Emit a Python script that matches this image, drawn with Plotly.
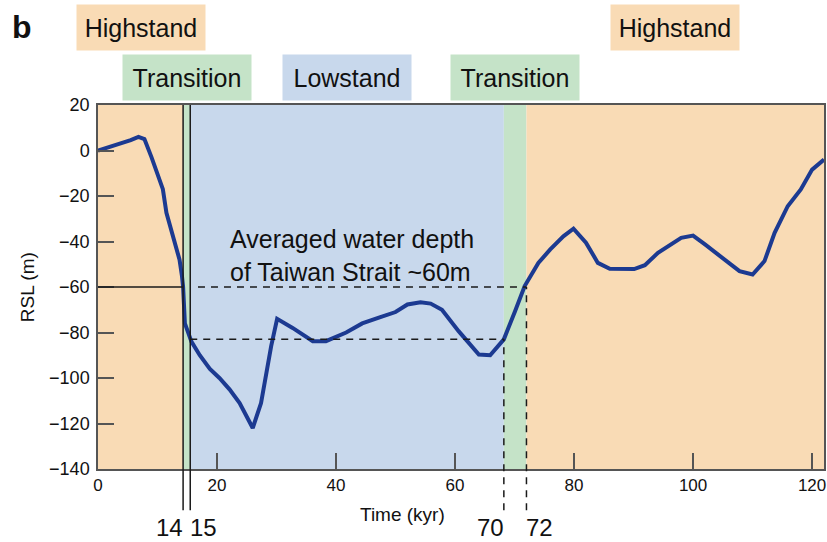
import plotly.graph_objects as go

# ---- data ----
time_kyr = [0, 3, 5.5, 6.8, 7.8, 9, 10.1, 10.9, 11.5, 12.1, 12.8, 13.7, 14.1, 14.3, 14.6,
            15.7, 17.1, 18.8, 20.4, 22.1, 23.8, 26, 27.4, 29.1, 30.1, 32.7, 36.1, 38.3,
            41.7, 44.4, 47.2, 50, 52, 54.2, 55.9, 57.8, 60.6, 61.8, 64, 65.9, 68.2, 70.1,
            71.7, 74, 76, 78.2, 79.9, 82, 84, 86, 90.1, 91.9, 94.1, 98, 100, 102, 104.2,
            107.8, 110, 112, 113.7, 115.9, 118.1, 120, 122]
rsl_m = [0, 2.4, 4.6, 6, 5, -3, -11.3, -17, -27.4, -33, -38, -48, -55, -60, -76,
         -84, -90, -96, -100, -105, -111, -122, -111, -86, -74, -78, -83.8, -83.8,
         -80, -76, -73.5, -71, -67.7, -66.7, -67.3, -70, -79.4, -83, -89.7, -90, -83, -70.6,
         -59.6, -49.4, -43.5, -37.7, -34.4, -40.5, -49.4, -52, -52.1, -50.4, -45, -38.4, -37.4, -41.3, -45.7,
         -53, -54.5, -48.6, -36.2, -24.5, -17.1, -8.4, -4]

# periods (start, end, label, color, label row)
period_start = [0, 14.3, 15.5, 68.2, 72]
period_end = [14.3, 15.5, 68.2, 72, 122]
period_label = ["Highstand", "Transition", "Lowstand", "Transition", "Highstand"]
period_color = ["#F9DBB5", "#C5E3C8", "#C8D8EC", "#C5E3C8", "#F9DBB5"]
period_row = [1, 2, 2, 2, 1]

x_ticks = [0, 20, 40, 60, 80, 100, 120]
y_ticks = [-140, -120, -100, -80, -60, -40, -20, 0, 20]
x_range = [0, 122]
y_range = [-140, 20]

strait_depth = -60      # averaged water depth of Taiwan Strait
lgm_level = -83         # lower reference level
boundary_lines = [14.3, 15.5, 68.2, 72]
boundary_labels = ["14", "15", "70", "72"]

FONT = "Liberation Sans, Arial, Helvetica, sans-serif"
LINE_BLUE = "#1C3A91"

def to_paper(v):
    return (v - y_range[0]) / (y_range[1] - y_range[0])

fig = go.Figure()
fig.add_trace(go.Scatter(x=time_kyr, y=rsl_m, mode="lines",
                         line=dict(color=LINE_BLUE, width=4), showlegend=False,
                         hoverinfo="skip"))

shapes = []
for s, e, c in zip(period_start, period_end, period_color):
    shapes.append(dict(type="rect", xref="x", yref="y", x0=s, x1=e,
                       y0=y_range[0], y1=y_range[1], fillcolor=c,
                       line=dict(width=0), layer="below"))

bottom_paper = -0.113
# solid vertical lines at 14.3 and 15.5
for xv in boundary_lines[:2]:
    shapes.append(dict(type="line", xref="x", yref="paper", x0=xv, x1=xv,
                       y0=bottom_paper, y1=1, line=dict(color="#1a1a1a", width=1.5)))
# dashed vertical lines
shapes.append(dict(type="line", xref="x", yref="paper", x0=boundary_lines[2], x1=boundary_lines[2],
                   y0=bottom_paper, y1=to_paper(lgm_level),
                   line=dict(color="#1a1a1a", width=1.5, dash="7px,6px")))
shapes.append(dict(type="line", xref="x", yref="paper", x0=boundary_lines[3], x1=boundary_lines[3],
                   y0=bottom_paper, y1=to_paper(strait_depth),
                   line=dict(color="#1a1a1a", width=1.5, dash="7px,6px")))
# horizontal lines
shapes.append(dict(type="line", xref="x", yref="y", x0=x_range[0], x1=boundary_lines[0],
                   y0=strait_depth, y1=strait_depth, line=dict(color="#1a1a1a", width=1.5)))
shapes.append(dict(type="line", xref="x", yref="y", x0=boundary_lines[1] + 1.3, x1=boundary_lines[3],
                   y0=strait_depth, y1=strait_depth,
                   line=dict(color="#1a1a1a", width=1.5, dash="7px,6px")))
shapes.append(dict(type="line", xref="x", yref="y", x0=boundary_lines[1], x1=boundary_lines[2],
                   y0=lgm_level, y1=lgm_level,
                   line=dict(color="#1a1a1a", width=1.5, dash="7px,6px")))

annotations = []
row_y = {1: 1.213, 2: 1.0755}
for s, e, lab, c, r in zip(period_start, period_end, period_label, period_color, period_row):
    annotations.append(dict(x=(s + e) / 2, y=row_y[r], xref="x", yref="paper",
                            text=lab, showarrow=False, bgcolor=c, width=116, height=33,
                            borderpad=6, xanchor="center", yanchor="middle",
                            font=dict(family=FONT, size=25, color="#111")))
annotations.append(dict(x=-0.104, y=1.214, xref="paper", yref="paper", text="<b>b</b>",
                        showarrow=False, xanchor="center", yanchor="middle",
                        font=dict(family=FONT, size=32, color="#111")))
annotations.append(dict(x=21.9, y=-46, xref="x", yref="y",
                        text="Averaged water depth<br>of Taiwan Strait ~60m",
                        showarrow=False, xanchor="left", yanchor="middle", align="left",
                        font=dict(family=FONT, size=25, color="#111")))
annotations.append(dict(x=-0.0975, y=0.5, xref="paper", yref="paper", text="RSL (m)",
                        textangle=-90, showarrow=False, xanchor="center", yanchor="middle",
                        font=dict(family=FONT, size=19, color="#111")))
annotations.append(dict(x=51.1, y=-0.124, xref="x", yref="paper", text="Time (kyr)",
                        showarrow=False, xanchor="center", yanchor="middle",
                        font=dict(family=FONT, size=19, color="#111")))
for xv, lab, anch in zip(boundary_lines, boundary_labels, ["right", "left", "right", "left"]):
    annotations.append(dict(x=xv, y=-0.162, xref="x", yref="paper", text=lab,
                            showarrow=False, xanchor=anch, yanchor="middle",
                            xshift=(1 if anch == "right" else -1),
                            font=dict(family=FONT, size=24, color="#111"),
                            borderpad=0))

axis_common = dict(showline=True, linecolor="#555", linewidth=1.5, mirror=True,
                   ticks="inside", ticklen=16, tickcolor="#555", tickwidth=1.5,
                   showgrid=False, zeroline=False)

fig.update_layout(
    width=827, height=542,
    margin=dict(l=98, r=1, t=105, b=73),
    paper_bgcolor="white", plot_bgcolor="white",
    xaxis=dict(range=x_range, tickvals=x_ticks,
               tickfont=dict(family=FONT, size=17, color="#111"), **axis_common),
    yaxis=dict(range=y_range, tickvals=y_ticks, ticklabelstandoff=3,
               tickfont=dict(family=FONT, size=18, color="#111"), **axis_common),
    shapes=shapes, annotations=annotations,
    showlegend=False,
)

fig.write_html("out.html", config={"displayModeBar": False},
               post_script="document.body.style.margin='0';document.body.style.padding='0';")
